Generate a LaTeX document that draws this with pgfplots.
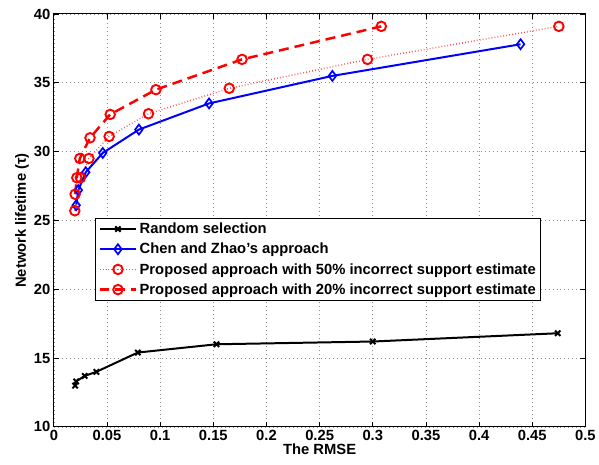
\documentclass[border=0pt]{standalone}
\usepackage{fontspec}
\setmainfont{Liberation Sans}
\usepackage{pgfplots}
\pgfplotsset{compat=1.18}

\begin{document}
\begin{tikzpicture}
\begin{axis}[
  scale only axis, width=533pt, height=414pt,
  xmin=0, xmax=0.5, ymin=10, ymax=40,
  xtick={0,0.05,...,0.5}, ytick={10,15,...,40},
  xticklabels={0,0.05,0.1,0.15,0.2,0.25,0.3,0.35,0.4,0.45,0.5},
  grid=major, major grid style={dash pattern=on 0.8pt off 3.2pt, gray!90, line width=0.7pt},
  axis line style={line width=1pt},
  tick style={black, line width=0.8pt}, major tick length=5pt,
  tick align=inside,
  font=\fontsize{14.8}{17}\selectfont\bfseries,
  ticklabel style={font=\fontsize{14.8}{17}\selectfont\bfseries},
  /pgf/number format/assume math mode=true,
  xlabel={The RMSE}, ylabel={Network lifetime (τ)},
  xlabel style={yshift=4pt}, ylabel style={yshift=-2pt},
  legend style={at={(0.077,0.507)}, anchor=north west, draw=black,
    line width=1pt, font=\fontsize{14.8}{17}\selectfont\bfseries,
    row sep=4pt, inner sep=3pt},
  legend cell align=left,
  legend image code/.code={\draw[mark repeat=2,mark phase=2] plot coordinates {(0cm,0cm) (0.65cm,0cm) (1.3cm,0cm)};},
]
\addplot[black, line width=2pt, mark=x, mark size=3.8pt, mark options={solid, line width=2pt}]
  coordinates {(0.020,13.0) (0.021,13.3) (0.029,13.7) (0.040,14.0) (0.079,15.4) (0.153,16.0) (0.300,16.2) (0.474,16.8)};
\addlegendentry{Random selection}
\addplot[blue, line width=2pt, mark=diamond, mark size=5pt, mark options={solid, line width=1.7pt}]
  coordinates {(0.021,26.1) (0.023,27.2) (0.030,28.5) (0.046,29.9) (0.080,31.6) (0.146,33.5) (0.262,35.5) (0.439,37.8)};
\addlegendentry{Chen and Zhao’s approach}
\addplot[red!70, line width=1.5pt, dash pattern=on 0.8pt off 2.2pt, mark=o, mark size=4.8pt, mark options={solid, red, line width=1.9pt}]
  coordinates {(0.0197,25.7) (0.025,28.1) (0.033,29.5) (0.052,31.1) (0.089,32.75) (0.165,34.6) (0.295,36.7) (0.475,39.1)};
\addlegendentry{Proposed approach with 50\% incorrect support estimate}
\addplot[red, line width=2.5pt, dash pattern=on 10pt off 6pt, mark=o, mark size=4.8pt, mark options={solid, line width=1.9pt}]
  coordinates {(0.020,26.9) (0.0216,28.1) (0.0244,29.5) (0.034,31.0) (0.053,32.7) (0.096,34.5) (0.177,36.7) (0.308,39.1)};
\addlegendentry{Proposed approach with 20\% incorrect support estimate}
\end{axis}
\path ([shift={(-54pt,-38pt)}]current axis.south west) rectangle ([shift={(12pt,14pt)}]current axis.north east);
\end{tikzpicture}
\end{document}
